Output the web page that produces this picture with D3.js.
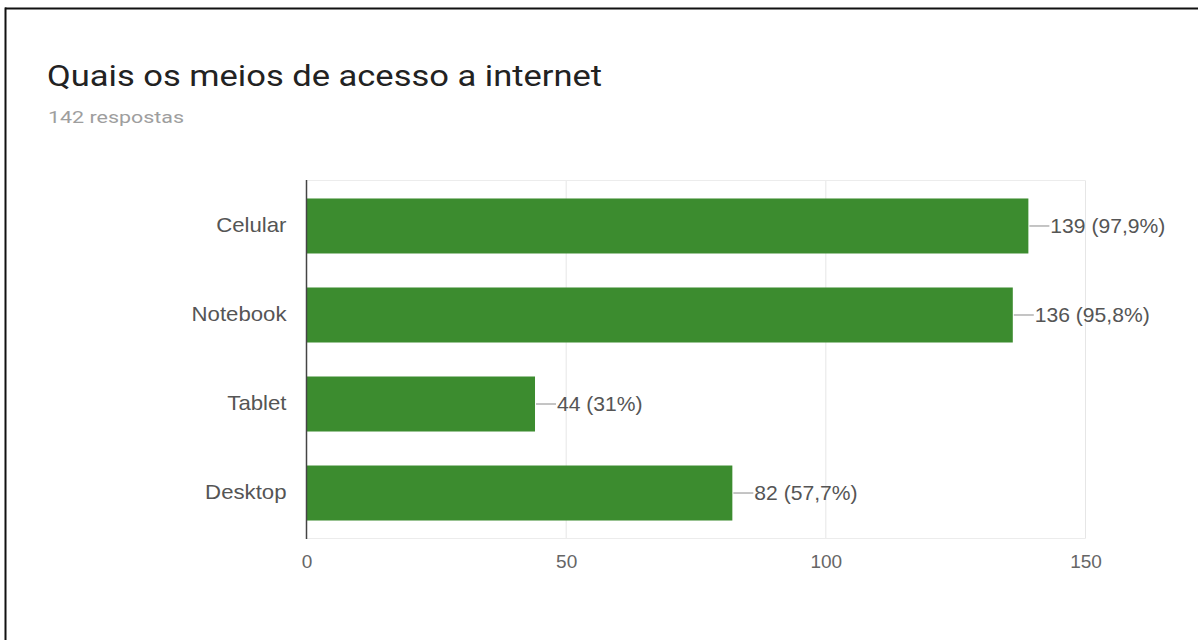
<!DOCTYPE html>
<html>
<head>
<meta charset="utf-8">
<script src="https://cdn.jsdelivr.net/npm/d3@7"></script>
<style>
  html, body { margin: 0; padding: 0; background: #fff; }
  svg { display: block; }
</style>
</head>
<body>
<svg id="chart" width="1198" height="640"></svg>
<script>
// Survey results: access devices
const title = "Quais os meios de acesso a internet";
const subtitle = "142 respostas";
const categories = ["Celular", "Notebook", "Tablet", "Desktop"];
const counts = [139, 136, 44, 82];
const percents = [97.9, 95.8, 31, 57.7];
const tickValues = [0, 50, 100, 150];

(function () {
const svg = d3.select("#chart");
const W = 1198, H = 640;

// frame lines along the top and left edges
svg.append("line").attr("x1", 5).attr("x2", W).attr("y1", 8.5).attr("y2", 8.5)
  .attr("stroke", "#111").attr("stroke-width", 2);
svg.append("line").attr("x1", 5.5).attr("x2", 5.5).attr("y1", 7.5).attr("y2", H)
  .attr("stroke", "#111").attr("stroke-width", 2);

// text placed at (x, y) with a horizontal stretch
function wideText(parent, x, y, sx) {
  return parent.append("text")
    .attr("transform", `translate(${x},${y}) scale(${sx},1)`);
}

// heading
wideText(svg, 47, 86, 1.19)
  .attr("font-family", "Roboto, sans-serif").attr("font-size", 29)
  .attr("fill", "#222").text(title);
wideText(svg, 48, 123, 1.3)
  .attr("font-family", "Roboto, sans-serif").attr("font-size", 16.5)
  .attr("fill", "#9e9e9e").text(subtitle);

// plot area
const plotLeft = 306.5, plotRight = 1085.5, plotTop = 180.5, plotBottom = 538.5;
const x = d3.scaleLinear().domain([0, 150]).range([plotLeft, plotRight]);
const y = d3.scaleBand().domain(categories).range([plotTop, plotBottom])
  .paddingInner(0.382).paddingOuter(0.202);

const labelFont = "'Liberation Sans', Arial, sans-serif";

// vertical gridlines
svg.append("g").selectAll("line").data(tickValues.slice(1)).join("line")
  .attr("x1", d => x(d)).attr("x2", d => x(d))
  .attr("y1", plotTop).attr("y2", plotBottom)
  .attr("stroke", "#e6e6e6").attr("stroke-width", 1);
// top and bottom boundaries of the plot
[plotTop, plotBottom].forEach(yy => {
  svg.append("line").attr("x1", plotLeft).attr("x2", plotRight)
    .attr("y1", yy).attr("y2", yy)
    .attr("stroke", "#ececec").attr("stroke-width", 1);
});

// bars
const bars = categories.map((c, i) => ({ cat: c, n: counts[i], pct: percents[i] }));
svg.append("g").selectAll("rect").data(bars).join("rect")
  .attr("x", x(0))
  .attr("y", d => y(d.cat))
  .attr("width", d => x(d.n) - x(0))
  .attr("height", y.bandwidth())
  .attr("fill", "#3c8c2f");

// baseline at zero
svg.append("line").attr("x1", x(0)).attr("x2", x(0))
  .attr("y1", plotTop - 0.5).attr("y2", plotBottom + 0.5)
  .attr("stroke", "#444").attr("stroke-width", 1.5);

// value annotations with leader lines
const fmtPct = p => (Number.isInteger(p) ? String(p) : p.toFixed(1).replace(".", ",")) + "%";
const ann = svg.append("g").selectAll("g").data(bars).join("g")
  .attr("transform", d => `translate(${x(d.n)},${y(d.cat) + y.bandwidth() / 2})`);
ann.append("line").attr("x1", 1).attr("x2", 21).attr("y1", 0).attr("y2", 0)
  .attr("stroke", "#9e9e9e").attr("stroke-width", 1.2);
ann.append("text")
  .attr("transform", "translate(22,0) scale(1.055,1)")
  .attr("dy", "0.35em")
  .attr("font-family", labelFont).attr("font-size", 20)
  .attr("fill", "#555")
  .text(d => `${d.n} (${fmtPct(d.pct)})`);

// category axis labels
const yAxis = d3.axisLeft(y).tickSize(0).tickPadding(0);
const gy = svg.append("g").attr("transform", `translate(${plotLeft - 20},0)`).call(yAxis);
gy.select(".domain").remove();
gy.selectAll("text")
  .attr("x", null)
  .attr("transform", "scale(1.11,1)")
  .attr("font-family", labelFont).attr("font-size", 20)
  .attr("fill", "#555");

// value axis labels
const xAxis = d3.axisBottom(x).tickValues(tickValues).tickSize(0).tickPadding(16)
  .tickFormat(d3.format("d"));
const gx = svg.append("g").attr("transform", `translate(0,${plotBottom})`).call(xAxis);
gx.select(".domain").remove();
gx.selectAll("text").attr("font-family", labelFont).attr("font-size", 19)
  .attr("fill", "#666");
})();
</script>
</body>
</html>
